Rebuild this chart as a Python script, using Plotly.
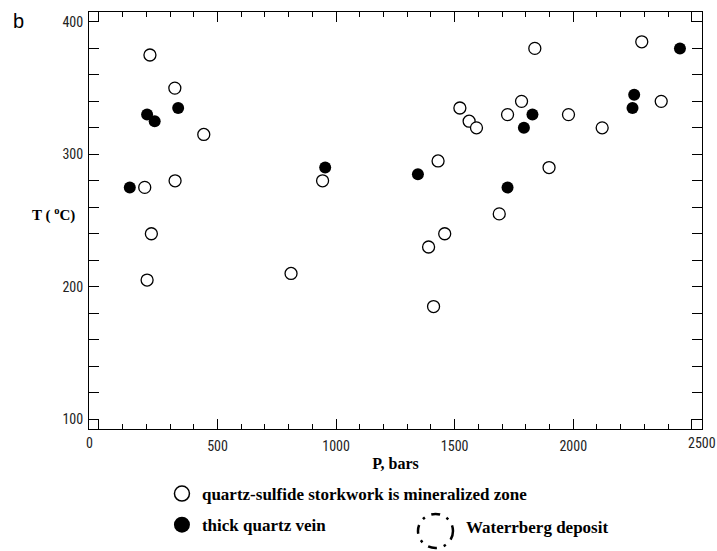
import plotly.graph_objects as go

# Data (P in bars, T in degrees C)
stockwork_P = [215, 320, 442, 193, 321, 221, 203, 810, 943, 1430, 1458, 1390, 1411,
               1838, 2289, 1522, 1561, 1592, 1723, 1782, 1980, 2122, 2371, 1898, 1688]
stockwork_T = [375, 350, 315, 275, 280, 240, 205, 210, 280, 295, 240, 230, 185,
               380, 385, 335, 325, 320, 330, 340, 330, 320, 340, 290, 255]

vein_P = [130, 203, 235, 334, 954, 1345, 1723, 1828, 1792, 2257, 2250, 2450]
vein_T = [275, 330, 325, 335, 290, 285, 275, 330, 320, 345, 335, 380]

x_label_ticks = [500, 1000, 1500, 2000]   # labelled at their ticks
x_end_ticks = [0, 2500]                   # labelled at the frame edges
y_ticks = [100, 200, 300, 400]

stockwork_name = "quartz-sulfide storkwork is mineralized zone"
vein_name = "thick quartz vein"
deposit_name = "Waterrberg deposit"

tick_font = dict(family="Liberation Sans Narrow, Roboto Condensed, DejaVu Sans Condensed, sans-serif",
                 size=14, color="#222222")
serif_bold = dict(family="Liberation Serif, Times New Roman, serif", size=17,
                  color="black", weight="bold")
title_font = dict(family="Liberation Serif, Times New Roman, serif", size=16,
                  color="black", weight="bold")
ylab_font = dict(family="Liberation Serif, Times New Roman, serif", size=15,
                 color="black", weight="bold")

X_RANGE = [-42, 2543]
Y_RANGE = [92.5, 407.5]

fig = go.Figure()

fig.add_trace(go.Scatter(
    x=stockwork_P, y=stockwork_T, mode="markers", showlegend=False,
    marker=dict(symbol="circle", size=12, color="white",
                line=dict(color="black", width=1.3)),
))
fig.add_trace(go.Scatter(
    x=vein_P, y=vein_T, mode="markers", showlegend=False,
    marker=dict(symbol="circle", size=12, color="black",
                line=dict(color="black", width=0)),
))
# legend entries (larger symbols as in the reference legend)
fig.add_trace(go.Scatter(
    x=[None], y=[None], mode="markers", name=stockwork_name, legendgroup="a",
    marker=dict(symbol="circle", size=15, color="white",
                line=dict(color="black", width=1.5)),
))
fig.add_trace(go.Scatter(
    x=[None], y=[None], mode="markers", name=vein_name, legendgroup="b",
    marker=dict(symbol="circle", size=16, color="black",
                line=dict(color="black", width=0)),
))
# empty trace that keeps the overlay axis (end ticks at 0 and 2500) alive
fig.add_trace(go.Scatter(x=[None], y=[None], xaxis="x2", yaxis="y",
                         showlegend=False, hoverinfo="skip"))

axis_common = dict(
    showline=True, linecolor="black", linewidth=1, mirror="allticks",
    ticks="inside", ticklen=10, tickwidth=1, tickcolor="black",
    showgrid=False, zeroline=False, tickfont=tick_font, automargin=False,
)

fig.update_layout(
    xaxis=dict(
        range=X_RANGE, tickmode="array", tickvals=x_label_ticks,
        ticklabelstandoff=4,
        minor=dict(dtick=100, tick0=0, ticks="inside", ticklen=5, tickcolor="black", tickwidth=1),
        title=dict(text="P, bars", font=title_font, standoff=5),
        **axis_common,
    ),
    xaxis2=dict(
        overlaying="x", anchor="y", side="bottom",
        range=X_RANGE, tickmode="array", tickvals=x_end_ticks, showticklabels=False,
        **axis_common,
    ),
    yaxis=dict(
        range=Y_RANGE, tickmode="array", tickvals=y_ticks,
        ticklabelstandoff=2,
        minor=dict(dtick=20, tick0=0, ticks="inside", ticklen=5, tickcolor="black", tickwidth=1),
        **axis_common,
    ),
)

annotations = [
    dict(text=str(x_end_ticks[0]), x=0, y=-0.0335, xref="paper", yref="paper",
         xanchor="center", yanchor="middle", showarrow=False, font=tick_font),
    dict(text=str(x_end_ticks[1]), x=1, y=-0.0335, xref="paper", yref="paper",
         xanchor="center", yanchor="middle", showarrow=False, font=tick_font),
    dict(text="T ( <sup>o</sup>C)", x=-0.0587, y=0.515, xref="paper", yref="paper",
         xanchor="center", yanchor="middle", showarrow=False, font=ylab_font),
    dict(text="b", x=-0.1158, y=0.979, xref="paper", yref="paper", xanchor="center",
         yanchor="middle", showarrow=False,
         font=dict(family="Liberation Sans, Arial, sans-serif", size=20, color="black")),
    dict(text=deposit_name, x=0.611, y=-0.237, xref="paper", yref="paper",
         xanchor="left", yanchor="middle", showarrow=False, font=serif_bold),
]

shapes = [
    dict(type="circle", xref="paper", yref="paper", x0=0.5367, x1=0.5938,
         y0=-0.2854, y1=-0.2038,
         line=dict(color="black", width=2.5, dash="9px,7px,2.5px,7px")),
]

fig.update_layout(
    width=717, height=551,
    margin=dict(l=89, r=15, t=12, b=122, autoexpand=False),
    paper_bgcolor="white", plot_bgcolor="white",
    showlegend=True,
    legend=dict(x=0.119, y=-0.1127, xanchor="left", yanchor="top",
                font=serif_bold, bgcolor="rgba(0,0,0,0)", tracegroupgap=6,
                itemwidth=30),
    annotations=annotations, shapes=shapes,
)

fig.write_html("out.html")
